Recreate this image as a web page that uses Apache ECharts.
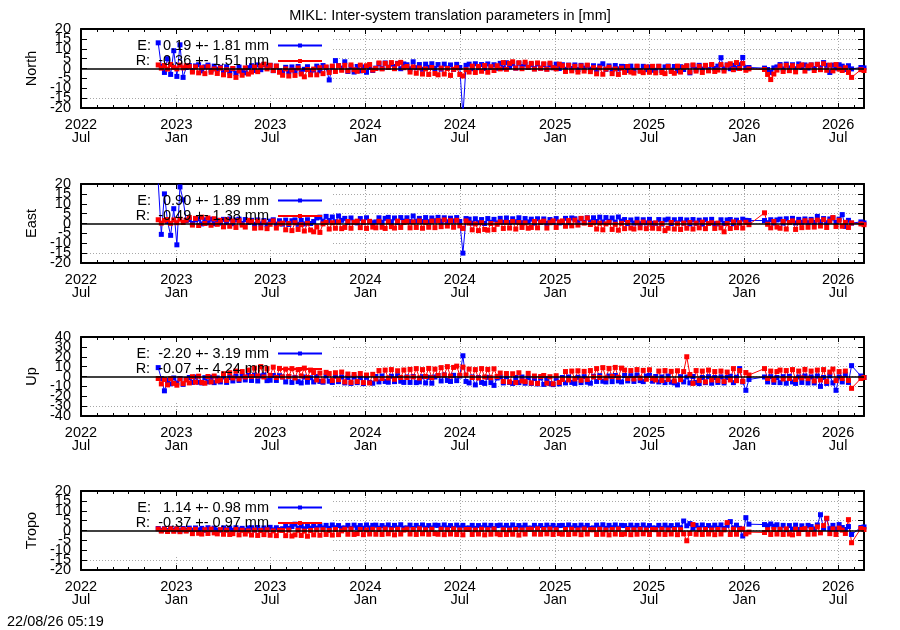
<!DOCTYPE html>
<html><head><meta charset="utf-8">
<script src="https://cdn.jsdelivr.net/npm/echarts@6/dist/echarts.min.js"></script>
<style>html,body{margin:0;padding:0;background:#fff}#c{width:900px;height:630px}</style>
</head><body><div id="c"></div>
<script>
const FONT = 'Liberation Sans, Arial, sans-serif';
const FS = 14.5;
const chartTitle = 'MIKL: Inter-system translation parameters in [mm]';
const stamp = '22/08/26 05:19';
const panelNames = ['North', 'East', 'Up', 'Tropo'];
const yLimits = [20, 20, 40, 20];
const yIntervals = [5, 5, 10, 5];
const yLabelsA = [[20,10,0,-10,-20],[20,10,0,-10,-20],[40,20,0,-20,-40],[20,10,0,-10,-20]];
const yLabelsB = [[15,5,-5,-15],[15,5,-5,-15],[30,10,-10,-30],[15,5,-5,-15]];
const legendE = ['E:   0.19 +- 1.81 mm', 'E:   0.90 +- 1.89 mm', 'E:  -2.20 +- 3.19 mm', 'E:   1.14 +- 0.98 mm'];
const legendR = ['R:  -0.36 +- 1.51 mm', 'R:  -0.49 +- 1.38 mm', 'R:  -0.07 +- 4.24 mm', 'R:  -0.37 +- 0.97 mm'];
const axisStart = '2022-07-01';
const axisEnd = '2026-08-20';
const majorTickDates = ['2022-07-01','2023-01-01','2023-07-01','2024-01-01','2024-07-01','2025-01-01','2025-07-01','2026-01-01','2026-07-01'];
const majorTickLabels = ['2022\nJul','2023\nJan','2023\nJul','2024\nJan','2024\nJul','2025\nJan','2025\nJul','2026\nJan','2026\nJul'];
const firstEpoch = '2022-11-27';
const stepDays = 6;

const northE = [
13,1,-2,5,-3,9,-4,12,-4.5,0.5,
1.5,-1.0,1.3,1.9,-1.2,0.8,1.7,-0.9,1.2,-0.4,
0.6,-2.0,0.9,-1.8,-0.2,-2.4,0.7,-1.5,-2.2,0.4,
1.4,-1.0,1.8,-0.6,2.0,0.9,1.6,-1.1,1.2,-1.2,
-1.9,0.6,-1.6,0.8,-1.2,1.0,-1.8,-0.4,0.9,-1.4,
-0.8,1.2,-1.2,1.5,0.4,-5.8,0.8,4.0,1.4,0.2,
3.4,-1.5,0.9,-1.8,1.0,-1.2,0.8,-1.9,0.6,-1.0,
0.2,2.4,0.1,2.8,0.6,2.2,1.0,2.6,-0.1,2.3,
1.9,-0.2,3.4,0.4,2.0,-0.4,2.2,0.6,2.4,0.0,
2.0,-0.3,2.2,0.2,1.8,-0.5,2.1,0.5,-24,1.6,
2.2,-0.1,2.4,0.4,2.0,0.0,2.3,0.6,1.9,0.1,
2.6,0.3,2.9,0.8,2.4,0.2,2.7,1.0,2.2,0.5,
2.1,-0.1,2.3,0.2,2.0,-0.2,1.9,0.4,2.2,0.0,
1.9,-0.4,1.7,0.0,1.8,-0.5,1.6,0.2,1.5,-0.3,
1.4,-0.6,1.2,2.4,-0.4,1.3,-0.7,1.5,-0.2,1.1,
1.0,-1.0,1.2,-0.8,0.9,-1.1,1.1,-0.6,0.8,-0.9,
-0.9,1.1,-1.0,0.8,1.2,-0.8,1.0,-1.2,0.9,-0.5,
1.2,-2.2,1.4,-0.4,1.6,-0.3,1.3,-0.6,1.7,0.0,
1.2,5.5,-0.2,1.8,-0.1,1.6,0.2,1.9,5.6,0.4,
0.5,null,null,null,null,0.2,-0.5,-2.0,0.3,0.8,
2.0,-0.2,2.2,0.3,1.9,-0.1,2.3,0.5,1.8,0.2,
1.8,0.0,2.1,0.4,3.0,1.6,-2.0,1.7,0.2,1.9,
1.2,-0.5,1.4,-0.2,null,null,0.5,0.3
];
const northR = [
1.8,0.2,1.5,-0.3,2.0,0.6,-0.2,1.7,0.3,1.4,
1.0,-1.8,0.8,-2.2,0.4,-2.6,0.9,-1.9,-0.2,-2.5,
0.2,-3.2,-0.6,-3.6,0.0,-4.5,-1.2,-3.4,0.3,-2.8,
-1.8,0.8,-1.6,1.4,2.2,-0.2,1.6,-1.0,1.2,-1.9,
-3.4,-0.2,-3.8,-0.8,-3.5,0.2,-2.8,-4.2,-0.5,-3.2,
-0.3,-3.2,0.4,-2.6,0.8,-2.0,1.2,-1.5,1.4,-0.9,
1.6,-1.2,1.8,-0.6,-1.4,1.7,-1.0,1.4,2.0,-0.8,
0.0,2.8,-0.2,2.6,0.6,3.0,-0.1,2.4,3.1,0.4,
1.0,-1.8,0.8,-2.4,0.3,-2.8,-0.2,-3.0,0.5,-2.5,
-3.2,0.2,-2.8,0.0,-3.5,-0.4,0.4,-3.0,-3.8,-0.6,
-1.8,1.2,-2.0,1.0,-1.4,1.5,-1.9,0.9,-1.0,1.4,
-0.2,3.0,-0.4,2.6,3.4,0.2,2.9,-0.1,3.2,0.6,
2.6,-0.3,2.8,0.1,2.4,-0.4,2.7,0.4,-0.2,2.2,
1.4,-1.5,1.6,-1.2,1.1,-1.8,1.3,-1.3,1.7,-1.6,
0.4,-2.7,0.3,-2.9,-0.3,0.6,-2.6,-0.2,-3.0,0.2,
-2.0,1.0,-1.8,-2.3,1.2,-1.4,-2.1,0.8,-1.9,1.1,
-2.2,1.1,-2.0,-2.6,1.0,-1.5,-2.4,1.2,-1.8,0.6,
1.4,-1.8,1.8,-1.3,1.1,-2.0,1.6,-1.2,2.0,-1.5,
-0.8,2.0,-1.3,1.7,2.4,-0.6,3.0,0.0,2.6,-0.9,
-0.2,null,null,null,null,-0.5,-3.0,-5.6,-2.8,-0.8,
1.3,-1.5,1.6,-1.1,1.4,-1.7,1.0,1.8,-1.3,1.2,
1.8,-1.0,2.1,-0.6,2.4,-0.9,1.7,-1.2,2.0,-0.3,
-1.0,0.4,-2.0,-4.5,null,null,-0.6,-1.0
];
const eastE = [
21,-5.5,15,1.0,-6.0,7.5,-10.8,18.5,12,1.5,
2.0,0.0,1.8,2.3,-0.2,1.9,0.3,2.2,-0.1,1.6,
0.2,2.1,0.4,2.3,-0.1,1.8,2.2,0.0,2.0,0.5,
1.6,-0.4,1.8,-0.2,1.5,-0.6,1.2,1.9,-0.3,1.4,
-0.3,1.7,-0.5,1.4,1.8,-0.4,1.6,-0.2,1.9,0.0,
1.0,2.8,3.2,1.2,3.6,1.5,3.3,0.9,3.8,1.6,
2.6,0.5,2.8,0.7,0.3,2.5,0.6,2.9,1.0,0.4,
0.8,2.9,0.6,2.6,3.1,0.9,2.8,0.5,3.0,1.2,
2.9,1.0,3.8,1.2,2.6,1.0,3.0,0.9,2.8,1.4,
3.1,1.1,2.9,0.9,2.7,1.3,3.0,1.0,-15.0,2.5,
2.2,0.2,2.4,0.4,2.0,0.0,2.5,0.6,2.1,0.3,
2.6,0.6,2.8,0.5,2.4,0.9,2.9,0.4,2.5,0.8,
2.2,0.2,2.4,0.5,2.3,0.1,2.0,0.6,2.5,0.3,
0.6,2.6,0.4,2.8,2.4,0.7,2.5,0.5,2.9,0.8,
2.9,1.0,3.2,0.8,3.0,1.1,2.8,0.7,3.3,1.2,
2.0,0.0,1.8,0.2,2.2,-0.1,1.9,0.3,2.1,0.1,
0.1,2.0,-0.2,1.8,2.2,0.0,1.9,0.3,2.1,0.2,
1.8,-0.2,2.0,0.1,1.7,-0.3,1.9,0.0,2.1,-0.1,
-0.2,1.9,0.0,1.8,2.0,-0.1,1.7,0.2,2.2,1.6,
1.5,null,null,null,null,1.5,0.4,1.9,0.2,1.8,
2.2,0.2,2.4,0.5,2.6,0.3,2.1,0.6,2.3,0.4,
2.1,0.6,3.6,0.9,2.5,0.4,2.3,2.8,0.5,2.2,
4.5,-1.5,1.6,0.2,null,null,0.8,0.3
];
const eastR = [
1.9,0.2,1.6,2.0,0.1,1.8,0.4,2.2,0.5,1.7,
3.0,-0.8,2.6,-1.0,3.2,0.0,2.8,-0.9,2.4,-0.4,
1.6,-1.7,1.9,-1.4,1.3,-2.0,1.5,-0.8,-1.8,1.6,
1.0,-2.4,1.2,-2.2,0.9,-2.6,-0.4,1.3,-2.3,-0.2,
0.2,-3.2,0.0,-3.6,0.4,-3.0,-0.6,-3.8,0.1,-3.3,
-4.2,-1.8,-4.5,-0.2,0.6,-2.8,0.4,-2.4,0.8,-2.6,
-2.0,1.0,-2.4,0.6,1.2,-2.1,0.8,-2.5,1.1,-1.8,
-2.2,1.1,-1.9,-2.5,0.9,-1.6,-2.3,1.2,-2.0,0.5,
1.1,-2.2,0.8,-2.0,1.3,-2.4,0.6,-1.9,1.2,-2.1,
1.5,-1.6,1.8,-1.3,1.4,-1.9,1.6,-1.2,-2.5,1.3,
0.2,-3.2,-0.2,-3.6,0.4,-3.0,-3.4,0.0,-3.1,-0.4,
0.8,-2.5,0.6,-2.3,1.0,-2.8,0.5,-2.0,0.3,-2.4,
-2.0,1.0,-2.2,0.7,1.2,-2.3,0.4,1.3,-2.0,0.8,
1.3,-1.4,1.5,-1.2,1.7,-0.8,2.6,0.2,2.8,-0.5,
0.4,-2.8,0.2,-3.2,-0.2,0.6,-3.0,-0.4,-3.4,0.1,
-2.6,0.5,-2.3,-2.8,0.4,-2.2,0.7,-2.6,0.2,-2.4,
0.3,-2.6,0.0,-3.6,-2.4,0.5,-2.8,-0.1,-3.0,0.2,
-2.4,0.5,-2.8,0.2,-2.2,0.7,-2.6,0.0,0.4,-2.5,
0.2,-2.2,-4.2,0.0,-2.5,0.8,-2.1,0.4,-2.3,0.6,
-0.6,null,null,null,null,5.4,-0.4,-2.2,1.0,-1.8,
-2.4,1.0,-2.8,0.5,1.3,-3.0,0.6,-2.1,1.4,-1.9,
1.4,-1.8,1.7,-1.3,1.9,-2.0,1.2,3.0,-1.5,1.6,
-1.4,0.6,-2.0,0.3,null,null,-0.2,-0.6
];
const upE = [
9.0,-2.0,-14.5,-4.0,-7.5,-1.5,-6.5,-2.0,-8.0,-3.0,
-1.0,-6.0,-0.5,-5.8,-6.5,-1.2,-5.5,-0.8,-6.2,-1.5,
-5.5,-0.5,-6.0,-1.0,-4.5,0.2,-4.0,0.5,-3.5,1.0,
-4.0,1.2,-4.5,0.5,1.5,-4.2,-3.8,1.0,-4.0,0.8,
-0.5,-5.5,-0.2,-6.0,-1.0,-5.2,-6.5,-0.5,-5.8,-1.2,
-5.5,0.0,-5.0,-5.8,0.5,-4.8,-6.0,0.2,-5.2,-0.5,
-6.5,-1.0,-7.0,-0.5,-6.2,-1.2,-7.2,-0.8,-6.0,-6.8,
0.0,-5.5,0.5,-5.0,-5.8,0.2,-5.2,0.8,-4.8,-6.0,
-0.5,-6.0,0.0,-6.2,-5.5,-0.2,-6.5,-0.8,-6.8,-0.5,
1.0,-4.5,1.5,-4.0,-5.0,1.2,-4.2,0.5,21.0,-5.0,
-6.5,-0.5,-8.5,-1.0,-6.0,-7.0,-0.8,-6.2,-9.0,-1.5,
-0.5,-6.5,-0.2,-6.0,-7.0,-1.0,-6.2,-0.5,-6.8,-1.2,
-7.0,-2.0,-7.5,-1.5,-8.0,-2.2,-7.2,-8.2,-1.8,-7.5,
-1.0,-6.5,-0.5,-6.0,-7.0,-0.8,-6.2,-0.2,-5.8,-6.8,
0.2,-5.0,0.8,-4.8,-5.5,0.5,-5.2,1.0,-4.5,-5.5,
1.0,-4.5,0.8,-5.0,1.5,-4.2,-5.2,0.5,1.2,-4.8,
0.0,-5.5,-0.5,-6.2,0.5,-5.8,-6.5,-8.5,-0.2,-5.5,
-0.5,-6.5,0.0,-6.0,-7.2,-1.0,-6.2,-0.2,-6.8,-1.0,
-6.0,-0.5,-6.5,-1.0,0.2,-6.2,-0.8,8.0,-5.5,-14.0,
-3.0,null,null,null,null,-0.5,-5.5,-0.2,-6.0,-1.0,
-6.2,-0.2,-6.8,0.2,-5.5,-7.0,-0.5,-6.0,0.5,-6.5,
-0.5,-6.5,0.5,-10.0,-1.0,-7.0,0.8,-6.5,-14.0,-0.5,
-5.5,2.0,-6.0,11.0,null,null,0.5,-1.0
];
const upR = [
-2.0,-7.5,-3.0,-8.5,-2.2,-7.0,-8.8,-2.5,-7.2,-3.5,
-6.5,-0.2,-5.8,0.3,-6.0,-6.8,0.0,-5.5,0.5,-4.5,
-3.5,2.8,-4.0,3.8,-1.5,5.5,-2.5,5.0,-0.5,6.5,
0.0,8.5,0.5,10.0,-0.5,8.0,1.0,9.5,-1.0,8.2,
-0.5,7.5,0.0,8.0,-1.5,7.0,0.5,8.5,-1.0,6.5,
4.0,-3.5,3.5,-4.5,4.2,3.0,-4.0,3.8,-3.2,4.5,
-5.5,2.5,-6.0,2.0,-5.2,3.0,-6.2,1.5,-6.5,2.2,
-2.5,6.0,-2.0,6.5,-1.5,7.0,-2.8,5.8,-1.0,6.6,
-1.0,7.2,-0.5,8.0,-1.5,7.0,0.0,8.2,-1.2,7.5,
1.0,9.0,1.5,10.0,0.5,9.2,10.5,1.2,9.5,1.5,
7.5,-1.0,7.0,-1.5,8.0,-0.5,7.2,-1.2,7.8,0.0,
3.5,-5.0,3.0,-5.5,2.8,-6.0,3.8,-4.5,-5.2,3.2,
-6.5,0.5,-7.0,0.0,1.0,-6.8,-0.2,-7.5,0.8,-6.0,
-3.0,5.0,-3.5,5.5,-2.5,5.8,-3.8,5.2,-3.0,6.0,
-0.5,8.0,-1.0,9.0,-1.5,8.2,0.0,9.2,-0.8,8.5,
6.5,-2.0,6.0,-2.5,7.0,-1.5,6.2,-2.8,6.8,-1.8,
-3.5,5.5,-4.0,6.0,-3.0,5.2,-4.5,5.8,-3.2,5.0,
20.0,2.0,-7.0,6.0,-4.0,5.5,-5.5,6.5,-3.5,5.0,
-4.0,5.5,-5.0,4.5,-3.5,8.0,-4.2,6.0,-5.0,4.0,
1.5,null,null,null,null,8.0,-2.0,5.5,-3.5,5.0,
6.5,-2.5,6.0,-2.0,7.0,-3.0,5.5,-1.5,7.2,-2.2,
5.5,-4.5,6.5,-3.5,7.0,-5.0,4.5,7.5,-4.2,5.0,
-2.0,5.5,-4.0,-12.0,null,null,-2.0,-1.0
];
const tropoE = [
1.0,0.1,0.9,0.0,1.1,0.2,0.9,-0.1,1.0,0.2,
1.2,0.2,1.3,0.3,1.1,0.1,1.4,0.4,1.2,0.2,
0.2,1.3,0.3,1.2,0.1,1.4,0.4,1.1,0.2,1.3,
1.4,0.3,1.5,0.2,1.3,0.4,1.6,0.3,1.4,0.5,
0.9,2.2,1.0,2.0,3.2,1.1,2.3,0.9,2.1,1.2,
2.5,1.2,2.7,1.3,2.6,1.1,2.8,1.4,2.5,1.2,
1.3,2.6,1.1,2.7,1.4,2.5,1.2,2.8,1.3,2.6,
2.7,1.2,2.5,1.4,2.8,1.1,2.6,1.3,2.9,1.2,
1.3,2.7,1.1,2.6,1.4,2.8,1.2,2.5,1.3,2.7,
2.6,1.2,2.8,1.3,2.5,1.1,2.7,1.4,2.6,1.2,
1.3,2.6,1.1,2.5,1.4,2.7,1.2,2.6,1.0,2.5,
2.7,1.3,2.6,1.2,2.8,1.1,2.5,1.4,2.7,1.2,
1.2,2.6,1.3,2.5,1.1,2.7,1.4,2.6,1.2,2.5,
2.6,1.1,2.8,1.3,2.5,1.2,2.7,1.4,2.6,1.1,
1.3,2.7,1.2,2.9,1.1,2.6,1.4,2.8,1.2,2.6,
2.5,1.1,2.7,1.3,2.6,1.0,2.8,1.2,2.5,1.3,
1.2,2.6,1.1,2.7,1.3,2.5,1.0,2.8,1.4,4.8,
2.4,3.5,1.1,2.6,1.2,2.8,1.0,2.5,1.3,2.7,
1.2,2.8,1.0,2.6,4.5,1.3,2.7,1.1,-2.8,6.5,
3.2,null,null,null,null,3.0,2.4,3.3,2.2,2.9,
0.6,2.6,0.4,2.5,0.7,2.7,0.5,2.4,0.8,2.6,
2.0,0.8,2.8,8.0,1.0,6.0,0.9,2.6,0.7,3.0,
1.5,0.5,2.0,-2.0,null,null,1.5,1.8
];
const tropoR = [
0.8,-0.3,0.7,-0.5,0.9,-0.4,0.8,-0.6,0.6,-0.3,
0.5,-1.6,0.6,-1.4,-1.8,0.4,-1.5,0.7,-1.2,-1.7,
0.4,-1.9,0.2,-2.0,-1.6,0.5,-2.2,0.1,-1.8,-0.2,
-2.3,0.2,-2.5,0.0,-2.1,0.3,-2.4,-0.2,-2.6,0.1,
0.0,-2.6,0.2,-2.8,-2.2,0.1,-2.5,-0.3,-2.9,0.0,
-2.2,0.3,-2.4,0.4,-2.0,0.0,-2.3,0.5,-2.1,-0.2,
0.6,-1.9,0.7,-2.0,-1.6,0.5,-2.1,0.3,-1.8,0.6,
-1.9,0.5,-2.0,0.7,-1.7,0.4,-2.2,0.6,-1.8,0.2,
0.7,-1.8,0.5,-2.0,0.8,-1.7,0.4,-1.9,0.6,-1.6,
-1.9,0.6,-2.1,0.4,-1.8,0.7,-2.0,0.3,-2.2,0.5,
0.5,-2.0,0.3,-1.8,0.6,-2.2,0.4,-1.9,0.7,-1.7,
-2.1,0.4,-2.0,0.2,-1.9,0.5,-2.3,0.3,-1.8,0.6,
0.6,-1.8,0.8,-1.9,0.5,-1.7,0.7,-2.0,0.4,-1.6,
-1.9,0.5,-2.0,0.6,-1.7,0.3,-2.1,0.7,-1.8,0.4,
0.4,-2.0,0.6,-1.9,0.3,-2.2,0.5,-1.8,0.7,-2.0,
-1.8,0.5,-2.1,0.4,-1.9,0.6,-1.7,0.3,-2.0,0.5,
0.4,-1.9,0.6,-2.0,0.3,-1.8,0.5,-2.1,0.4,-1.7,
-5.2,-1.5,3.0,-1.9,0.4,-2.0,0.5,-1.8,0.3,-2.1,
0.5,-1.8,0.3,4.0,-2.0,0.6,-1.9,0.4,0.8,-1.7,
-0.8,null,null,null,null,-1.0,0.4,-2.0,0.5,-1.8,
0.6,-2.0,0.8,-1.8,-2.2,0.7,-1.6,0.5,0.9,-1.9,
0.5,-1.8,1.8,-1.2,2.5,6.2,-1.6,0.8,-2.0,1.2,
0.2,-1.5,5.5,-6.2,null,null,1.0,0.5
];

const seriesE = [northE, eastE, upE, tropoE];
const seriesR = [northR, eastR, upR, tropoR];

function utc(s) { const p = s.split('-').map(Number); return Date.UTC(p[0], p[1] - 1, p[2]); }
const DAY = 86400000;
const T0 = utc(axisStart), T1 = utc(axisEnd);
const E0 = utc(firstEpoch);
const majorTs = majorTickDates.map(utc);
const labelMap = {};
majorTs.forEach((t, i) => { labelMap[t] = majorTickLabels[i]; });
const minorTs = [];
for (let k = 2022 * 12 + 6; k <= 2026 * 12 + 7; k++) minorTs.push(Date.UTC(Math.floor(k / 12), k % 12, 1));

function toPairs(arr) { return arr.map((v, i) => [E0 + i * stepDays * DAY, v]); }

const tops = [29, 184, 337, 491];
const H = 79;
const txt = { fontSize: FS, fontFamily: FONT, color: '#000' };
const border = { show: true, onZero: false, lineStyle: { color: '#000', width: 2 } };

const grids = [], xAxes = [], yAxes = [], series = [], legends = [], graphics = [];
const legendText = {};

panelNames.forEach((p, g) => {
  grids.push({ left: 81, right: 36, top: tops[g], height: H });
  const xb = (o) => Object.assign({ gridIndex: g, type: 'value', min: T0, max: T1, z: 3, scale: true,
    axisLine: { show: false, onZero: false }, axisTick: { show: false }, axisLabel: { show: false },
    splitLine: { show: false }, axisPointer: { show: false } }, o);
  xAxes.push(xb({ position: 'bottom', axisLine: border,
    axisTick: { show: true, inside: true, length: 5, customValues: majorTs, lineStyle: { color: '#000', width: 1 } },
    axisLabel: Object.assign({ show: true, customValues: majorTs, formatter: (v) => labelMap[v] || '', margin: 10, lineHeight: 13, hideOverlap: false }, txt) }));
  xAxes.push(xb({ position: 'bottom', z: 0, axisTick: { show: false, customValues: majorTs },
    splitLine: { show: true, lineStyle: { color: '#a8a8a8', width: 1, type: [1, 2] } } }));
  xAxes.push(xb({ position: 'bottom', axisTick: { show: true, inside: true, length: 3, customValues: minorTs, lineStyle: { color: '#000', width: 1 } } }));
  xAxes.push(xb({ position: 'top', axisLine: border, axisTick: { show: true, inside: true, length: 5, customValues: majorTs, lineStyle: { color: '#000', width: 1 } } }));
  xAxes.push(xb({ position: 'top', axisTick: { show: true, inside: true, length: 3, customValues: minorTs, lineStyle: { color: '#000', width: 1 } } }));

  const yb = (o) => Object.assign({ gridIndex: g, type: 'value', min: -yLimits[g], max: yLimits[g], interval: yIntervals[g], z: 3,
    axisLine: { show: false, onZero: false }, axisTick: { show: false }, axisLabel: { show: false }, splitLine: { show: false } }, o);
  yAxes.push(yb({ position: 'left', axisLine: border,
    axisTick: { show: true, inside: true, length: 6, lineStyle: { color: '#000', width: 1 } },
    axisLabel: Object.assign({ show: true, margin: 10, customValues: yLabelsA[g], hideOverlap: false }, txt),
    name: p, nameLocation: 'middle', nameGap: 41, nameRotate: 90, nameTextStyle: txt }));
  yAxes.push(yb({ position: 'left', z: 0, splitLine: { show: true, lineStyle: { color: '#a8a8a8', width: 1, type: [1, 2] } } }));
  yAxes.push(yb({ position: 'right', axisLine: border, axisTick: { show: true, inside: true, length: 6, lineStyle: { color: '#000', width: 1 } } }));
  yAxes.push(yb({ position: 'left', axisLabel: Object.assign({ show: true, margin: 10, customValues: yLabelsB[g], hideOverlap: false }, txt) }));

  const nE = 'E-' + p, nR = 'R-' + p;
  legendText[nE] = legendE[g];
  legendText[nR] = legendR[g];
  series.push({ type: 'line', name: nE, xAxisIndex: 5 * g, yAxisIndex: 4 * g, data: toPairs(seriesE[g]),
    symbol: 'rect', symbolSize: 5, connectNulls: true, z: 4, animation: false,
    lineStyle: { color: '#0000ff', width: 1 }, itemStyle: { color: '#0000ff' } });
  series.push({ type: 'line', name: nR, xAxisIndex: 5 * g, yAxisIndex: 4 * g, data: toPairs(seriesR[g]),
    symbol: 'rect', symbolSize: 5, connectNulls: true, z: 4, animation: false,
    lineStyle: { color: '#ff0000', width: 1 }, itemStyle: { color: '#ff0000' },
    markLine: { silent: true, symbol: ['none', 'none'], label: { show: false }, animation: false,
      lineStyle: { color: '#000', width: 1.5, type: 'solid' }, data: [{ yAxis: 0 }] } });

  legends.push({ data: [nE, nR], orient: 'vertical', align: 'right', right: 577, top: tops[g] + 9, padding: 0,
    itemWidth: 44, itemHeight: 5, itemGap: 0.5, selectedMode: false, z: 5, icon: 'inherit',
    formatter: (n) => legendText[n], textStyle: Object.assign({ padding: [0, 4, 0, 0], lineHeight: 14 }, txt) });

  graphics.push({ type: 'rect', silent: true, z: 1, shape: { x: 82, y: tops[g] + 1, width: 250, height: 65 }, style: { fill: '#fff' } });
});

const chart = echarts.init(document.getElementById('c'), null, { renderer: 'canvas' });
chart.setOption({
  animation: false,
  backgroundColor: '#fff',
  title: [
    { text: chartTitle, left: 'center', top: 8, padding: 0, textStyle: Object.assign({ fontWeight: 'normal' }, txt) },
    { text: stamp, left: 7, top: 614, padding: 0, textStyle: Object.assign({ fontWeight: 'normal' }, txt) }
  ],
  grid: grids, xAxis: xAxes, yAxis: yAxes, series: series, legend: legends,
  graphic: { elements: graphics }
});
</script></body></html>
